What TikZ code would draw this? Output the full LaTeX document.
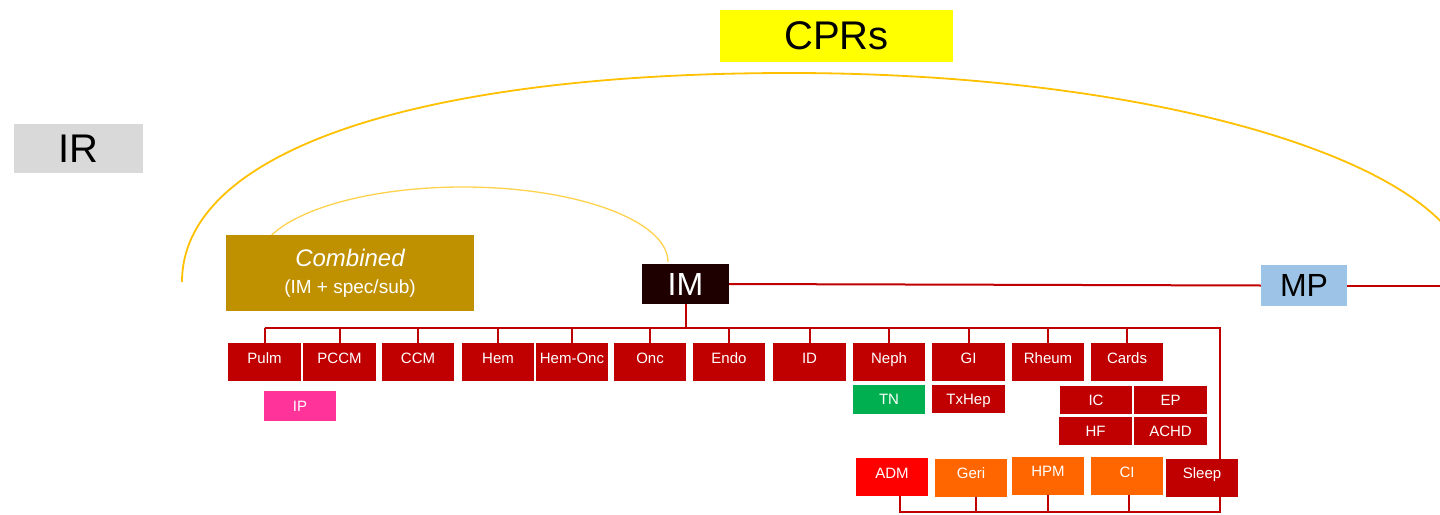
\documentclass[tikz,border=0pt]{standalone}
\usepackage{fontspec}
\setmainfont{Liberation Sans}
\usetikzlibrary{calc}
\definecolor{cred}{HTML}{C00000}
\definecolor{cpink}{HTML}{FF3399}
\definecolor{cgreen}{HTML}{00B050}
\definecolor{cbright}{HTML}{FF0000}
\definecolor{corange}{HTML}{FF6600}
\definecolor{cdark}{HTML}{1F0000}
\definecolor{cblue}{HTML}{9DC3E6}
\definecolor{cgray}{HTML}{D9D9D9}
\definecolor{cyellow}{HTML}{FFFF00}
\definecolor{cgold}{HTML}{BF9000}
\definecolor{carc}{HTML}{FFC000}
\definecolor{carcin}{HTML}{FFD24D}
\begin{document}
\begin{tikzpicture}[x=1pt,y=-1pt,
  base/.style={rectangle, inner sep=0pt, text=white},
  spec/.style={base, fill=cred, minimum width=72.5pt, minimum height=38pt,
    font=\fontsize{15}{15}\selectfont, text height=8.5pt, text depth=6pt},
  subspec/.style={base, fill=cred, minimum width=72.5pt, minimum height=28pt,
    font=\fontsize{15}{15}\selectfont, text height=10.7pt, text depth=0pt},
  bigtag/.style={rectangle, inner sep=0pt, text=black, font=\fontsize{40}{40}\selectfont},
  link/.style={draw=cred, line width=2pt},
  arcbig/.style={draw=carc, line width=1.8pt},
  arcsmall/.style={draw=carcin, line width=1.3pt}
]
\useasboundingbox (0,0) rectangle (1440,514);

% arcs behind the boxes
\draw[arcbig] (182,282) .. controls (182,150) and (420,73) .. (790,73)
  .. controls (1165,73) and (1470,167) .. (1470,282);
\draw[arcsmall] (668,262) .. controls (668,220.6) and (576.2,187) .. (463,187)
  .. controls (349.8,187) and (258,220.6) .. (258,262);

% headline tags
\node[bigtag, fill=cyellow, minimum width=233pt, minimum height=52pt] (cprs) at (836.5,36) {CPRs};
\node[bigtag, fill=cgray, minimum width=129pt, minimum height=49pt] (ir) at (78.5,148.5) {IR};

% main programmes
\node[base, fill=cgold, minimum width=248pt, minimum height=76pt, align=center,
  font=\fontsize{19}{27}\selectfont]
  (comb) at (350,273) {{\fontsize{24}{27}\selectfont\itshape Combined}\\(IM + spec/sub)};
\node[base, fill=cdark, minimum width=87pt, minimum height=40pt, font=\fontsize{32}{32}\selectfont] (im) at (685.5,284) {IM};
\node[base, fill=cblue, text=black, minimum width=86pt, minimum height=41pt, font=\fontsize{32}{32}\selectfont] (mp) at (1304,285.5) {MP};
\coordinate (mpout) at (1440,285.5);

% specialties
\node[spec] (pulm)   at (264.5,362) {Pulm};
\node[spec] (pccm)   at (339.5,362) {PCCM};
\node[spec] (ccm)    at (418,362)   {CCM};
\node[spec] (hem)    at (498,362)   {Hem};
\node[spec] (hemonc) at (572,362)   {Hem-Onc};
\node[spec] (onc)    at (650,362)   {Onc};
\node[spec] (endo)   at (729,362)   {Endo};
\node[spec] (id)     at (809.5,362) {ID};
\node[spec] (neph)   at (889,362)   {Neph};
\node[spec] (gi)     at (968.5,362) {GI};
\node[spec] (rheum)  at (1048,362)  {Rheum};
\node[spec] (cards)  at (1127,362)  {Cards};

% subspecialties
\node[subspec, fill=cpink, minimum height=30pt] (ip) at (300,406) {IP};
\node[subspec, fill=cgreen, minimum height=29pt] (tn) at (889,399.5) {TN};
\node[subspec] (txhep) at (968.5,399) {TxHep};
\node[subspec] (ic)    at (1096,400)   {IC};
\node[subspec] (ep)    at (1170.5,400) {EP};
\node[subspec] (hf)    at (1095.5,431) {HF};
\node[subspec] (achd)  at (1170.5,431) {ACHD};

% multidisciplinary fellowships
\node[spec, fill=cbright] (adm)   at (892,477)    {ADM};
\node[spec, fill=corange] (geri)  at (971,477.5)  {Geri};
\node[spec, fill=corange] (hpm)   at (1048,475.5) {HPM};
\node[spec, fill=corange] (ci)    at (1127,476)   {CI};
\node[spec] (sleep) at (1202,477.5) {Sleep};

% connectors
\draw[link] (im.east) -- (mp.west);
\draw[link] (mp.east) -- (mpout);
\coordinate (bus) at (0,328);
\coordinate (sleepin) at (1220,459);
\coordinate (low) at (0,512);
\draw[link] (im.south) -- (im.south |- bus);
\draw[link] (pulm.north |- bus) -- (sleepin |- bus) -- (sleepin);
\foreach \n in {pulm,pccm,ccm,hem,hemonc,onc,endo,id,neph,gi,rheum,cards}
  \draw[link] (\n.north) -- (\n.north |- bus);
\coordinate (admdrop) at ($(adm.south)+(8,0)$);
\coordinate (geridrop) at ($(geri.south)+(5,0)$);
\coordinate (cidrop) at ($(ci.south)+(2,0)$);
\coordinate (sleepdrop) at ($(sleep.south)+(18,0)$);
\draw[link] (admdrop) -- (admdrop |- low) -- (sleepdrop |- low) -- (sleepdrop);
\draw[link] (geridrop) -- (geridrop |- low);
\draw[link] (hpm.south) -- (hpm.south |- low);
\draw[link] (cidrop) -- (cidrop |- low);
\end{tikzpicture}
\end{document}
